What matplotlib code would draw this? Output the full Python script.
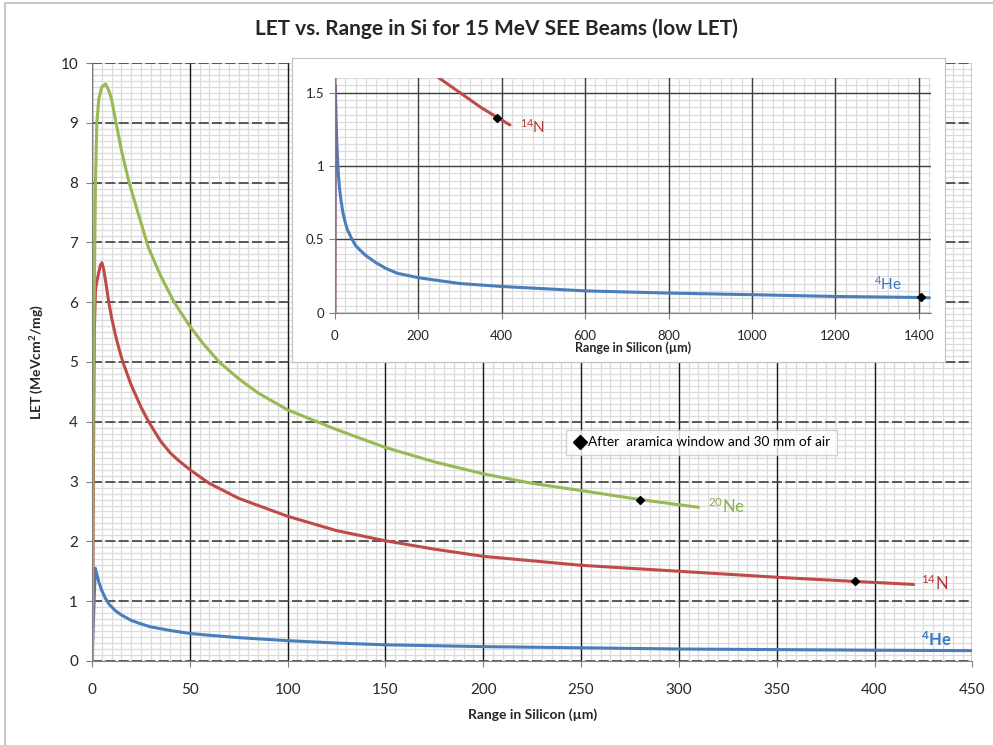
import matplotlib
matplotlib.use("Agg")
import matplotlib.pyplot as plt
from matplotlib.ticker import MultipleLocator, NullLocator
from matplotlib.lines import Line2D
from matplotlib.patches import Rectangle

plt.rcParams["font.family"] = ["Lato", "DejaVu Sans"]
plt.rcParams["mathtext.default"] = "regular"

# range in silicon (um) and LET (MeVcm2/mg)
he_x = [0, 1.7, 2.5, 3.5, 5, 7, 9, 12, 15, 20, 25, 30, 35, 40, 50, 60, 75, 100, 125, 150,
        200, 300, 400, 600, 800, 1000, 1200, 1400, 1425]
he_y = [0, 1.55, 1.45, 1.32, 1.18, 1.04, 0.94, 0.84, 0.77, 0.68, 0.62, 0.57, 0.54, 0.51, 0.46, 0.43, 0.39, 0.34, 0.3, 0.27,
        0.24, 0.2, 0.18, 0.15, 0.135, 0.124, 0.112, 0.105, 0.103]

n_x = [0.3, 0.8, 1.2, 1.8, 2.5, 3.5, 4.3, 5.1, 6, 7, 8.6, 10, 12, 14, 15.8, 18, 20, 25, 29, 35, 40, 44, 50,
       60, 75, 100, 125, 150, 175, 200, 250, 300, 350, 390, 420]
n_y = [0, 3.5, 5.5, 6.2, 6.35, 6.5, 6.62, 6.66, 6.55, 6.35, 6.0, 5.75, 5.45, 5.2, 5.0, 4.8, 4.62, 4.25, 4.0, 3.68, 3.48, 3.36, 3.2,
       2.97, 2.72, 2.42, 2.18, 2.01, 1.87, 1.75, 1.6, 1.5, 1.4, 1.33, 1.28]

ne_x = [0.2, 0.5, 0.8, 1.3, 1.8, 2.5, 3.5, 5, 7, 8.5, 10, 12.3, 15, 19, 23.5, 29, 35, 42, 50, 57, 65, 75, 85,
        100, 125, 150, 175, 200, 225, 250, 280, 310]
ne_y = [0, 3.0, 5.0, 6.5, 8.0, 9.0, 9.4, 9.6, 9.65, 9.55, 9.4, 9.0, 8.55, 8.0, 7.5, 6.9, 6.45, 6.0, 5.6, 5.3, 5.0, 4.72, 4.48,
        4.2, 3.87, 3.57, 3.33, 3.13, 2.97, 2.85, 2.7, 2.57]

# "after aramica window and 30 mm of air" points
mark_x = [1405, 390, 280]
mark_y = [0.105, 1.33, 2.7]

he_col = "#4a7ebb"
n_col = "#be4b48"
ne_col = "#98b954"
txt = "#262626"
line_kw = dict(lw=2.2, solid_joinstyle="round", solid_capstyle="round")


def minor_grid_axes(rect, xlim, ylim, xstep, ystep, z):
    # light minor grid sits on its own axes underneath, so the major lines stay unbroken
    bg = fig.add_axes(rect, zorder=z)
    bg.set_xlim(*xlim)
    bg.set_ylim(*ylim)
    bg.xaxis.set_major_locator(MultipleLocator(xstep))
    bg.yaxis.set_major_locator(MultipleLocator(ystep))
    bg.grid(color="#dcdcdc", lw=0.9)
    bg.tick_params(length=0, labelbottom=False, labelleft=False)
    for s in bg.spines.values():
        s.set_visible(False)
    return bg


fig = plt.figure(figsize=(9.93, 7.45), dpi=100)
fig.patches.append(Rectangle((0.005, -0.02), 1.0, 1.016, transform=fig.transFigure,
                             fill=False, edgecolor="#c8c8c8", lw=1.5))

main_rect = [0.0926, 0.1128, 0.8866, 0.8026]
minor_grid_axes(main_rect, (0, 450), (0, 10), 5, 0.1, 0)
ax = fig.add_axes(main_rect, zorder=1)
ax.patch.set_alpha(0)
ax.plot(he_x, he_y, color=he_col, **line_kw)
ax.plot(n_x, n_y, color=n_col, **line_kw)
ax.plot(ne_x, ne_y, color=ne_col, **line_kw)
ax.plot(mark_x[1:], mark_y[1:], "D", color="black", ms=4, ls="none")
ax.set_xlim(0, 450)
ax.set_ylim(0, 10)
ax.xaxis.set_major_locator(MultipleLocator(50))
ax.yaxis.set_major_locator(MultipleLocator(1))
ax.set_axisbelow(True)
ax.grid(axis="x", color="#1a1a1a", lw=1.0)
ax.grid(axis="y", color="#404040", lw=1.2, ls=(0, (6, 2)))
ax.tick_params(length=4, color="#808080", labelsize=11, labelcolor=txt, pad=6)
ax.tick_params(axis="x", pad=12)
for s in ["top", "right"]:
    ax.spines[s].set_visible(False)
for s in ["left", "bottom"]:
    ax.spines[s].set_color("#808080")
ax.set_xlabel("Range in Silicon (\u00b5m)", fontsize=10, fontweight="bold", color=txt, labelpad=8)
ax.set_ylabel("LET (MeVcm$^{2}$/mg)", fontsize=10, fontweight="bold", color=txt, labelpad=10)

ax.text(424, 0.36, "$^{4}$He", color="#3c78c3", fontsize=12, fontweight="bold", va="center")
ax.text(424, 1.3, "$^{14}$N", color="#b23a3a", fontsize=12, va="center")
ax.text(315, 2.58, "$^{20}$Ne", color="#8ab04a", fontsize=12, va="center")

handle = Line2D([], [], marker="D", color="black", ls="none", ms=7)
leg = ax.legend([handle], ["After  aramica window and 30 mm of air"], loc="upper left",
                bbox_to_anchor=(0.539, 0.387), fontsize=9.8, frameon=True, fancybox=False,
                handletextpad=0.1, handlelength=1.0, borderpad=0.5, borderaxespad=0)
leg.get_frame().set_edgecolor("#c8c8c8")
leg.get_frame().set_linewidth(1.0)

fig.suptitle("LET vs. Range in Si for 15 MeV SEE Beams (low LET)", y=0.975,
             fontsize=15, fontweight="bold", color=txt)

# inset: white panel with a grey frame, then the zoomed-out axes
frame = fig.add_axes([0.294, 0.514, 0.658, 0.408], zorder=2)
frame.set_xticks([])
frame.set_yticks([])
for s in frame.spines.values():
    s.set_color("#c0c0c0")

ins_rect = [0.337, 0.580, 0.601, 0.3154]
minor_grid_axes(ins_rect, (0, 1430), (0, 1.6), 25, 0.05, 3)
ins = fig.add_axes(ins_rect, zorder=4)
ins.patch.set_alpha(0)
ins.plot(he_x, he_y, color=he_col, **line_kw)
ins.plot(n_x, n_y, color=n_col, **line_kw)
ins.plot(ne_x, ne_y, color=ne_col, lw=1.5)
ins.plot([mark_x[0], mark_x[1]], [mark_y[0], mark_y[1]], "D", color="black", ms=4, ls="none")
ins.set_xlim(0, 1430)
ins.set_ylim(0, 1.6)
ins.xaxis.set_major_locator(MultipleLocator(200))
ins.yaxis.set_major_locator(MultipleLocator(0.5))
ins.yaxis.set_major_formatter(plt.FuncFormatter(lambda v, p: f"{v:g}"))
ins.set_axisbelow(True)
ins.grid(color="#404040", lw=1.0)
ins.tick_params(length=4, color="#808080", labelsize=9.5, labelcolor=txt)
ins.tick_params(axis="x", pad=8)
for s in ["top", "right"]:
    ins.spines[s].set_visible(False)
for s in ["left", "bottom"]:
    ins.spines[s].set_color("#808080")
ins.set_xlabel("Range in Silicon (\u00b5m)", fontsize=9, fontweight="bold", color=txt, labelpad=0)
ins.text(444, 1.27, "$^{14}$N", color="#b23a3a", fontsize=11, va="center")
ins.text(1292, 0.2, "$^{4}$He", color="#3c78c3", fontsize=11, va="center")

fig.savefig("out.png", dpi=100)
